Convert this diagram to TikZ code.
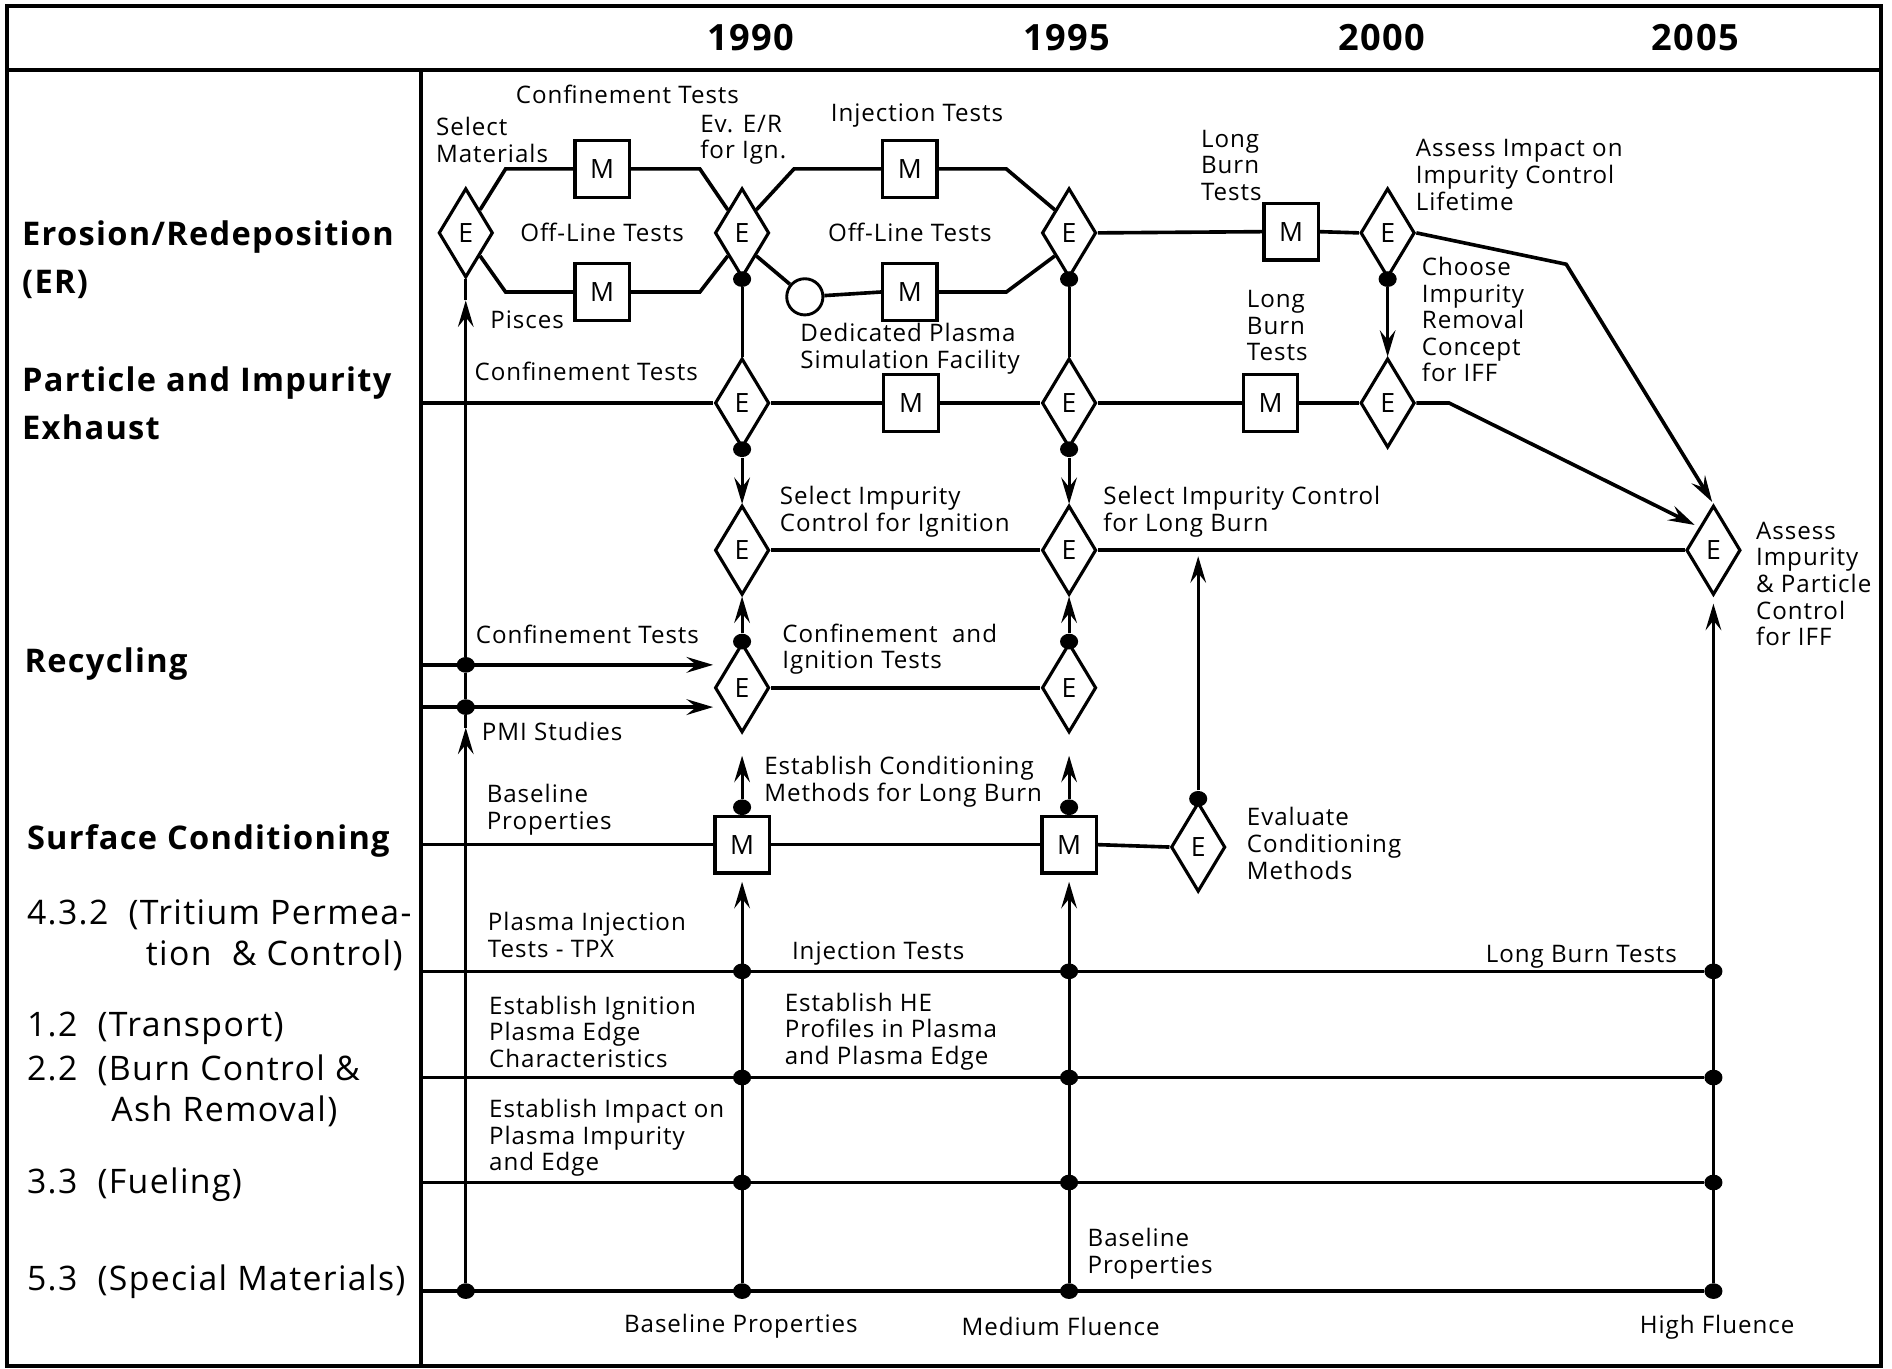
\documentclass[tikz,border=0pt]{standalone}
\usepackage{fontspec}
\setmainfont{Open Sans}[LetterSpace=4]
\usetikzlibrary{shapes.geometric,arrows.meta}
\begin{document}
\begin{tikzpicture}[x=0.5pt,y=-0.5pt,
 >={Stealth[length=11pt,width=6.5pt,inset=4pt]},
 frame/.style={line width=1.5pt},
 pl/.style={line width=1.5pt},
 vl/.style={line width=1.2pt},
 ediam/.style={diamond,draw,line width=1.3pt,minimum width=22.5pt,minimum height=37pt,inner sep=0pt,fill=white,font=\fontsize{11}{11}\selectfont},
 mbox/.style={rectangle,draw,line width=1.3pt,minimum width=22.5pt,minimum height=23.5pt,inner sep=0pt,fill=white,font=\fontsize{11}{11}\selectfont},
 circ/.style={circle,draw,line width=1.2pt,minimum size=15pt,inner sep=0pt,fill=white},
 dot/.style={ellipse,fill,inner sep=0pt,minimum width=7.5pt,minimum height=6.5pt},
 lbl/.style={anchor=west,inner sep=0pt,align=left,font=\fontsize{10}{11}\selectfont},
 clbl/.style={lbl,anchor=center,align=center},
 side/.style={anchor=west,inner sep=0pt,align=left,font=\bfseries\fontsize{13.5}{20}\selectfont},
 sider/.style={anchor=west,inner sep=0pt,align=left,font=\fontsize{14}{17}\selectfont},
 year/.style={inner sep=0pt,font=\bfseries\fontsize{15}{15}\selectfont}]
\useasboundingbox (0,0) rectangle (1568,1134);
% frame
\draw[frame] (6,5) rectangle (1559,1132);
\draw[frame] (6,58) -- (1559,58);
\draw[frame] (349,58) -- (349,1132);
% years
\node[year] (y90) at (622,31) {1990};
\node[year] (y95) at (884,31) {1995};
\node[year] (y00) at (1145,31) {2000};
\node[year] (y05) at (1405,31) {2005};
% side labels
\node[side] (sER) at (18,215) {Erosion/Redeposition\\(ER)};
\node[side] (sPI) at (18,334) {Particle and Impurity\\Exhaust};
\node[side] (sRec) at (20,550) {Recycling};
\node[side] (sSC) at (22,697) {Surface Conditioning};
\node[sider] (s432) at (22,758) {4.3.2~~(Tritium Permea-};
\node[sider,anchor=east] (s432b) at (334,792) {tion~~\&~Control)};
\node[sider] (s12) at (22,852) {1.2~~(Transport)};
\node[sider] (s22) at (22,887) {2.2~~(Burn Control \&};
\node[sider] (s22b) at (92,921) {Ash Removal)};
\node[sider] (s33) at (22,982) {3.3~~(Fueling)};
\node[sider] (s53) at (22,1062) {5.3~~(Special Materials)};
% shapes
\node[ediam] (E1) at (386,193) {E};
\node[ediam] (E2) at (615,193) {E};
\node[ediam] (E3) at (886,193) {E};
\node[ediam] (E4) at (1150,193) {E};
\node[mbox] (Mu1) at (499,140) {M};
\node[mbox] (Ml1) at (499,242) {M};
\node[mbox] (Mu2) at (754,140) {M};
\node[mbox] (Ml2) at (754,242) {M};
\node[mbox] (Mlb) at (1070,192) {M};
\node[circ] (C) at (667,246) {};
\node[ediam] (Ep1) at (615,334) {E};
\node[mbox] (Mp1) at (755,334) {M};
\node[ediam] (Ep2) at (886,334) {E};
\node[mbox] (Mp2) at (1053,334) {M};
\node[ediam] (Ep3) at (1150,334) {E};
\node[ediam] (Es1) at (615,456) {E};
\node[ediam] (Es2) at (886,456) {E};
\node[ediam] (E5) at (1420,456) {E};
\node[ediam] (Er1) at (615,570) {E};
\node[ediam] (Er2) at (886,570) {E};
\node[mbox] (Ms1) at (615,700) {M};
\node[mbox] (Ms2) at (886,700) {M};
\node[ediam] (Eev) at (993,702) {E};
% coordinates
\coordinate (b1) at (419,140);
\coordinate (b2) at (580,140);
\coordinate (b3) at (419,242);
\coordinate (b4) at (580,242);
\coordinate (b5) at (658,140);
\coordinate (b6) at (834,140);
\coordinate (b7) at (834,242);
\coordinate (b8) at (1298,219);
\coordinate (b9) at (1201,334);
\coordinate (pL) at (349,334);
\coordinate (rL1) at (349,551);
\coordinate (rL2) at (349,586);
\coordinate (rA1) at (591,551);
\coordinate (rA2) at (591,586);
\coordinate (sL) at (349,700);
\coordinate (bL1) at (349,805);
\coordinate (bL2) at (349,893);
\coordinate (bL3) at (349,980);
\coordinate (bL4) at (349,1070);
\coordinate (eA) at (993,461);
\coordinate (t1) at (386,603);
\coordinate (t2) at (386,249);
% dots
\node[dot] (dE2) at (E2.south) {};
\node[dot] (dEp1) at (Ep1.south) {};
\node[dot] (dE3) at (E3.south) {};
\node[dot] (dEp2) at (Ep2.south) {};
\node[dot] (dE4) at (E4.south) {};
\node[dot] (dEr1) at (Er1.north) {};
\node[dot] (dEr2) at (Er2.north) {};
\node[dot] (dMs1) at (615,669) {};
\node[dot] (dMs2) at (886,669) {};
\node[dot] (dEv) at (993,662) {};
\node[dot] (dR1) at (386,551) {};
\node[dot] (dR2) at (386,586) {};
\node[dot] (a1) at (615,805) {};
\node[dot] (a2) at (615,893) {};
\node[dot] (a3) at (615,980) {};
\node[dot] (a4) at (615,1070) {};
\node[dot] (c1) at (886,805) {};
\node[dot] (c2) at (886,893) {};
\node[dot] (c3) at (886,980) {};
\node[dot] (c4) at (886,1070) {};
\node[dot] (e1) at (1420,805) {};
\node[dot] (e2) at (1420,893) {};
\node[dot] (e3) at (1420,980) {};
\node[dot] (e4) at (1420,1070) {};
\node[dot] (l4) at (386,1070) {};
% ER row connectors
\draw[pl] (E1.north east) -- (b1) -- (Mu1.west);
\draw[pl] (Mu1.east) -- (b2) -- (E2.north west);
\draw[pl] (E1.south east) -- (b3) -- (Ml1.west);
\draw[pl] (Ml1.east) -- (b4) -- (E2.south west);
\draw[pl] (E2.north east) -- (b5) -- (Mu2.west);
\draw[pl] (Mu2.east) -- (b6) -- (E3.north west);
\draw[pl] (E2.south east) -- (C);
\draw[pl] (C) -- (Ml2.west);
\draw[pl] (Ml2.east) -- (b7) -- (E3.south west);
\draw[pl] (E3.east) -- (Mlb.west);
\draw[pl] (Mlb.east) -- (E4.west);
\draw[pl,->,shorten >=1pt] (E4.east) -- (b8) -- (E5.north);
% particle row
\draw[pl] (pL) -- (Ep1.west);
\draw[pl] (Ep1.east) -- (Mp1.west);
\draw[pl] (Mp1.east) -- (Ep2.west);
\draw[pl] (Ep2.east) -- (Mp2.west);
\draw[pl] (Mp2.east) -- (Ep3.west);
\draw[pl,->,shorten >=2pt] (Ep3.east) -- (b9) -- (E5.north west);
% select row
\draw[pl] (Es1.east) -- (Es2.west);
\draw[pl] (Es2.east) -- (E5.west);
% recycling row
\draw[pl,->] (rL1) -- (rA1);
\draw[pl,->] (rL2) -- (rA2);
\draw[pl] (Er1.east) -- (Er2.west);
% surface row
\draw[pl] (sL) -- (Ms1.west);
\draw[pl] (Ms1.east) -- (Ms2.west);
\draw[pl] (Ms2.east) -- (Eev.west);
% bottom lines
\draw[pl] (bL1) -- (e1);
\draw[pl] (bL2) -- (e2);
\draw[pl] (bL3) -- (e3);
\draw[pl] (bL4) -- (e4);
% verticals
\draw[vl] (dE2) -- (Ep1.north);
\draw[vl,->] (dEp1) -- (Es1.north);
\draw[vl,->] (dEr1) -- (Es1.south);
\draw[vl,->,shorten >=9pt] (dMs1) -- (Er1.south);
\draw[vl,->,shorten >=3pt] (a4) -- (Ms1.south);
\draw[vl] (dE3) -- (Ep2.north);
\draw[vl,->] (dEp2) -- (Es2.north);
\draw[vl,->] (dEr2) -- (Es2.south);
\draw[vl,->,shorten >=9pt] (dMs2) -- (Er2.south);
\draw[vl,->,shorten >=3pt] (c4) -- (Ms2.south);
\draw[vl,->] (dE4) -- (Ep3.north);
\draw[vl,->] (dEv) -- (eA);
\draw[vl,->,shorten >=3pt] (e4) -- (E5.south);
\draw[vl,->] (l4) -- (t1);
\draw[vl] (t1) -- (dR2);
\draw[vl] (dR2) -- (dR1);
\draw[vl,->] (dR1) -- (t2);
\draw[vl] (t2) -- (E1.south);
% labels
\node[clbl] (tConf1) at (520,78) {Confinement Tests};
\node[lbl] (tSel) at (361,116) {Select\\Materials};
\node[clbl] (tOff1) at (499,193) {Off-Line Tests};
\node[lbl] (tPis) at (406,265) {Pisces};
\node[lbl] (tEv) at (580,116) {Ev. E/R\\for Ign.};
\node[clbl] (tInj1) at (760,96) {Injection Tests};
\node[clbl] (tOff2) at (754,193) {Off-Line Tests};
\node[lbl] (tDed) at (663,289) {Dedicated Plasma\\Simulation Facility};
\node[lbl] (tLB1) at (995,137) {Long\\Burn\\Tests};
\node[lbl] (tAss) at (1173,145) {Assess Impact on\\Impurity Control\\Lifetime};
\node[lbl] (tCho) at (1178,265) {Choose\\Impurity\\Removal\\Concept\\for IFF};
\node[lbl] (tLB2) at (1033,270) {Long\\Burn\\Tests};
\node[lbl] (tConf2) at (393,308) {Confinement Tests};
\node[lbl] (tSI1) at (646,424) {Select Impurity\\Control for Ignition};
\node[lbl] (tSI2) at (914,424) {Select Impurity Control\\for Long Burn};
\node[lbl] (tAIP) at (1455,484) {Assess\\Impurity\\\&~Particle\\Control\\for IFF};
\node[lbl] (tConf3) at (394,526) {Confinement Tests};
\node[lbl] (tCIT) at (648,538) {Confinement~~and\\Ignition Tests};
\node[lbl] (tPMI) at (399,606) {PMI Studies};
\node[lbl] (tECM) at (633,648) {Establish Conditioning\\Methods for Long Burn};
\node[lbl] (tBP1) at (403,671) {Baseline\\Properties};
\node[lbl] (tEval) at (1033,699) {Evaluate\\Conditioning\\Methods};
\node[lbl] (tPIT) at (404,775) {Plasma Injection\\Tests - TPX};
\node[lbl] (tInj2) at (656,790) {Injection Tests};
\node[lbl] (tLBT) at (1231,793) {Long Burn Tests};
\node[lbl] (tEIP) at (405,855) {Establish Ignition\\Plasma Edge\\Characteristics};
\node[lbl] (tEHE) at (650,855) {Establish HE\\Profiles in Plasma\\and Plasma Edge};
\node[lbl] (tEIm) at (405,943) {Establish Impact on\\Plasma Impurity\\and Edge};
\node[lbl] (tBP2) at (901,1039) {Baseline\\Properties};
\node[clbl] (tBP3) at (614,1099) {Baseline Properties};
\node[clbl] (tMF) at (879,1099) {Medium Fluence};
\node[clbl] (tHF) at (1423,1100) {High Fluence};
\end{tikzpicture}
\end{document}
